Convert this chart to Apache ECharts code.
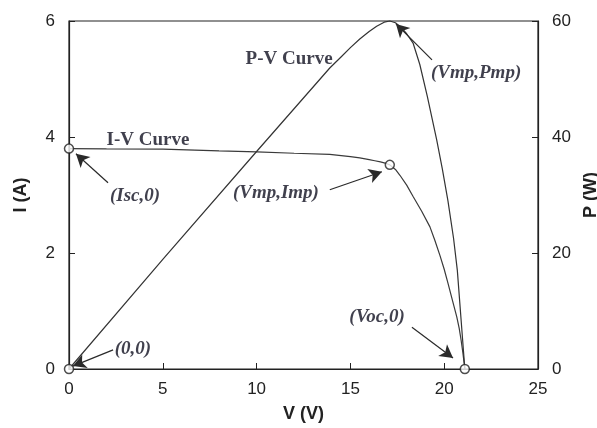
<!DOCTYPE html>
<html><head><meta charset="utf-8">
<script src="https://cdn.jsdelivr.net/npm/echarts@6/dist/echarts.min.js"></script>
<style>html,body{margin:0;padding:0;background:#fff}#c{width:597px;height:428px}</style>
</head><body><div id="c"></div>
<script>
// I-V curve (V in volts, I in amps)
const ivV = [0, 2, 5, 8, 10, 12, 13.9, 15, 15.5, 16, 16.3, 16.6, 16.85, 17.1, 17.4, 17.64, 18.0, 18.35, 18.8, 19.24, 19.5, 19.78, 20.0, 20.2, 20.45, 20.67, 20.8, 20.9, 21.0, 21.1];
const ivI = [3.80, 3.795, 3.79, 3.76, 3.745, 3.72, 3.70, 3.66, 3.64, 3.61, 3.59, 3.57, 3.55, 3.52, 3.44, 3.34, 3.17, 2.97, 2.72, 2.45, 2.22, 1.95, 1.72, 1.48, 1.17, 0.90, 0.70, 0.50, 0.27, 0];
// P-V curve (V in volts, P in watts)
const pvV = [0, 5, 10, 13.9, 14.5, 15, 15.5, 16, 16.4, 16.8, 17.1, 17.4, 17.7, 18.0, 18.34, 18.7, 19.1, 19.6, 19.9, 20.2, 20.5, 20.7, 20.9, 21.1];
const pvP = [0, 18.9, 37.5, 51.9, 53.8, 55.4, 56.9, 58.2, 59.1, 59.8, 60, 59.7, 58.9, 57.8, 56.2, 52.5, 47, 39.5, 34.5, 29, 22.5, 17, 8.5, 0];
// key points (V, I)
const keyV = [0, 17.1, 21.1, 0];
const keyI = [3.8, 3.52, 0, 0];
// tick values
const xTicks = [0, 5, 10, 15, 20, 25];
const iTicks = [0, 2, 4, 6];
const pTicks = [0, 20, 40, 60];
// annotations: text, V, I (position in I units), italic
const annText = ['P-V Curve', 'I-V Curve', '(Isc,0)', '(Vmp,Imp)', '(Vmp,Pmp)', '(Voc,0)', '(0,0)'];
const annV = [11.73, 4.21, 3.52, 11.03, 21.7, 16.42, 3.41];
const annI = [5.34, 3.95, 2.98, 3.03, 5.10, 0.90, 0.34];
const annItalic = [false, false, true, true, true, true, true];
// arrows: from (V,I) to (V,I)
const arrFromV = [2.08, 13.9, 19.35, 18.28, 2.35];
const arrFromI = [3.21, 3.09, 5.33, 0.72, 0.33];
const arrToV = [0.37, 16.68, 17.43, 20.47, 0.21];
const arrToI = [3.71, 3.40, 5.95, 0.19, 0.05];

const chart = echarts.init(document.getElementById('c'));
const lineColor = '#2a2a2a';
const axisFont = {fontFamily: 'Liberation Sans', fontSize: 17, color: '#222'};
const nameFont = {fontFamily: 'Liberation Sans', fontSize: 18, fontWeight: 'bold', color: '#222'};

chart.setOption({
  animation: false,
  grid: {left: 69, right: 59, top: 21, bottom: 59, outerBoundsMode: 'none', containLabel: false,
         show: true, borderColor: '#222', borderWidth: 1.2},
  xAxis: {
    type: 'value', min: xTicks[0], max: xTicks[xTicks.length - 1], interval: 5,
    name: 'V (V)', nameLocation: 'middle', nameGap: 36, nameTextStyle: nameFont,
    axisLine: {show: true, onZero: false, lineStyle: {color: '#222', width: 1.2}},
    axisTick: {show: true, inside: true, length: 6, lineStyle: {color: '#222'}},
    axisLabel: Object.assign({margin: 12}, axisFont),
    splitLine: {show: false}
  },
  yAxis: [{
    type: 'value', min: iTicks[0], max: iTicks[iTicks.length - 1], interval: 2,
    name: 'I (A)', nameLocation: 'middle', nameGap: 39, nameRotate: 90, nameTextStyle: nameFont,
    axisLine: {show: true, lineStyle: {color: '#222', width: 1.2}},
    axisTick: {show: true, inside: true, length: 6, lineStyle: {color: '#222'}},
    axisLabel: Object.assign({margin: 14}, axisFont),
    splitLine: {show: false}
  }, {
    type: 'value', position: 'right', min: pTicks[0], max: pTicks[pTicks.length - 1], interval: 20,
    name: 'P (W)', nameLocation: 'middle', nameGap: 41, nameRotate: 90, nameTextStyle: nameFont,
    axisLine: {show: true, lineStyle: {color: '#222', width: 1.2}},
    axisTick: {show: true, inside: true, length: 6, lineStyle: {color: '#222'}},
    axisLabel: Object.assign({margin: 14}, axisFont),
    splitLine: {show: false}
  }],
  series: [{
    type: 'line', yAxisIndex: 0, data: ivV.map((v, i) => [v, ivI[i]]),
    showSymbol: false, smooth: false, clip: false,
    lineStyle: {color: '#3a3a3a', width: 1.2},
    markLine: {
      silent: true, symbol: ['none', 'arrow'], symbolSize: [11, 13], precision: 4,
      label: {show: false},
      lineStyle: {color: lineColor, width: 1.2, type: 'solid'},
      data: arrFromV.map((v, i) => [{coord: [v, arrFromI[i]]}, {coord: [arrToV[i], arrToI[i]]}])
    }
  }, {
    type: 'line', yAxisIndex: 1, data: pvV.map((v, i) => [v, pvP[i]]),
    showSymbol: false, smooth: false, clip: false,
    lineStyle: {color: '#333', width: 1.2}
  }, {
    type: 'scatter', yAxisIndex: 0, clip: false, z: 5,
    data: keyV.map((v, i) => [v, keyI[i]]),
    symbol: 'circle', symbolSize: 9,
    itemStyle: {color: '#fff', borderColor: '#222', borderWidth: 1.5}
  }, {
    type: 'scatter', yAxisIndex: 0, clip: false, symbolSize: 0, z: 6,
    data: annText.map((t, i) => ({
      value: [annV[i], annI[i]], name: t,
      label: {fontStyle: annItalic[i] ? 'italic' : 'normal'}
    })),
    label: {
      show: true, position: 'inside', formatter: '{b}',
      fontFamily: 'Liberation Serif', fontWeight: 'bold', fontSize: 19, color: '#101020'
    }
  }]
});
</script>
</body></html>
